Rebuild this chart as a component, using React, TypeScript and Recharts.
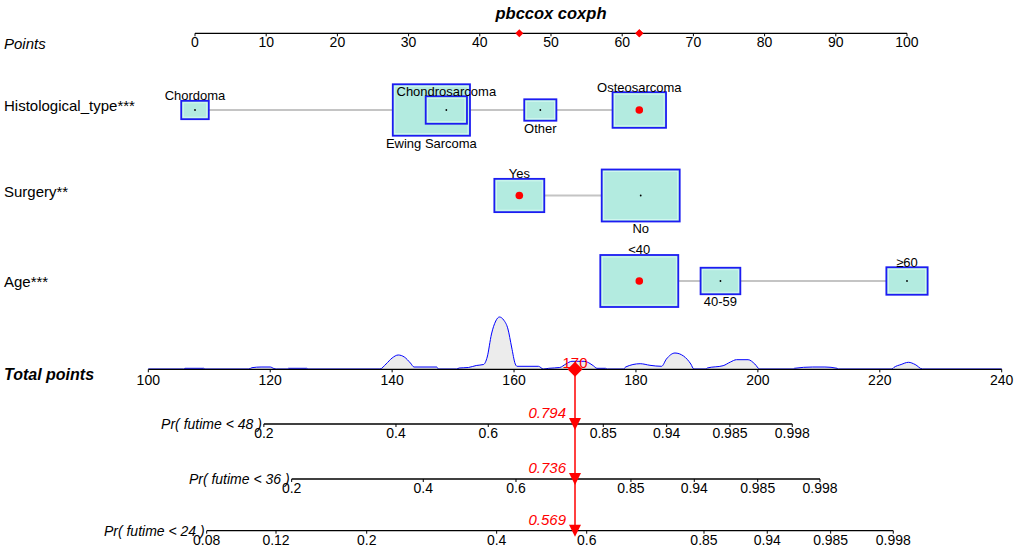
import { ComposedChart, XAxis, YAxis, Scatter, Area, ReferenceLine } from "recharts";

const FONT = '"Liberation Sans", Arial, Helvetica, sans-serif';

// points scale of the nomogram
const pointTicks = [0, 10, 20, 30, 40, 50, 60, 70, 80, 90, 100];

// variables: level names, points, relative frequency (box size)
const histTypes = ["Chordoma", "Ewing Sarcoma", "Chondrosarcoma", "Other", "Osteosarcoma"];
const histPoints = [0, 33.2, 35.3, 48.5, 62.4];
const histFreq = [0.125, 0.98, 0.28, 0.17, 0.47];

const surgeryLevels = ["Yes", "No"];
const surgeryPoints = [45.55, 62.6];
const surgeryFreq = [0.41, 1.0];

const ageGroups = ["<40", "40-59", "≥60"];
const agePoints = [62.4, 73.8, 100];
const ageFreq = [1.0, 0.26, 0.28];

const chosen = { hist: "Osteosarcoma", surgery: "Yes", age: "<40" };

// total points
const totalTicks = [100, 120, 140, 160, 180, 200, 220, 240];
const totalScore = 170;

// density of total points in the cohort
const densityAt = [
  100, 105.8, 106, 109.1, 109.3,
  116.5, 117, 118.5, 120, 120.6, 121,
  122.8, 123, 126, 126.2,
  138, 139, 140, 141, 142, 143, 143.6, 147.3, 147.6,
  150.6, 151, 152.5, 153.8, 155, 155.6, 156.3, 157, 157.6, 158.3, 159, 159.6, 160.2, 160.5, 164, 164.8,
  165.7, 167.5, 168.5, 169.5, 171.5, 173, 173.6, 175, 175.3,
  178, 178.3, 180.7, 182.3, 184.2, 185, 186.4, 187.8, 189, 189.5,
  191.5, 191.7, 194.3, 195.5, 196.5, 198.4, 199.5, 200.3,
  205.8, 206, 209, 211, 213, 213.2,
  222, 222.3, 223.5, 224.7, 225.8, 227,
  240,
];
const densityVal = [
  0, 0, 0.7, 0.7, 0,
  0, 1.3, 2, 2, 0.5, 0,
  0, 0.7, 0.7, 0,
  0, 5, 11, 14, 12, 6, 2, 2, 0,
  0, 1, 1.5, 3.5, 4.5, 12, 35, 48, 52, 49, 40, 22, 5, 2.7, 2.7, 0,
  0.7, 1.5, 5, 7.7, 7.7, 3.3, 0.7, 0.7, 0,
  0, 2, 5.3, 3.7, 2.7, 10, 16, 13, 5, 0,
  0, 1, 3.3, 7, 9.3, 9.3, 5, 0,
  0, 0.7, 2, 2, 0.7, 0,
  0, 1.5, 4.5, 6.7, 4.5, 0,
  0,
];

// probability axes: tick labels and where they sit on the total points scale
const pr48Labels = ["0.2", "0.4", "0.6", "0.85", "0.94", "0.985", "0.998"];
const pr48At = [118.96, 140.63, 155.77, 174.64, 185.04, 195.42, 205.64];
const pr36Labels = ["0.2", "0.4", "0.6", "0.85", "0.94", "0.985", "0.998"];
const pr36At = [123.52, 145.11, 160.32, 179.18, 189.57, 199.97, 210.19];
const pr24Labels = ["0.08", "0.12", "0.2", "0.4", "0.6", "0.85", "0.94", "0.985", "0.998"];
const pr24At = [109.58, 120.95, 135.83, 157.15, 171.92, 191.16, 201.54, 211.94, 222.21];
const probTitles = ["Pr( futime < 48 )", "Pr( futime < 36 )", "Pr( futime < 24 )"];
const predicted = ["0.794", "0.736", "0.569"];

// layout
const TOP_ROWS = [0, 76.7, 162.2, 247.7];
const BOT_ROWS = [0, 54.7, 109.7, 161.4];

const levelData = (names: string[], pts: number[], freq: number[], y: number, pick: string) =>
  names.map((name, i) => ({ x: pts[i], y, name, freq: freq[i], below: i % 2 === 1, chosen: name === pick }));

const tickData = (at: number[], labels: string[], y: number, title?: string) =>
  at.map((x, i) => ({ x, y, label: labels[i], title: i === 0 ? title : undefined }));

const AxisTick = (props: any) => {
  const { cx, cy, payload, dy } = props;
  return (
    <g>
      <line x1={cx} y1={cy} x2={cx} y2={cy + 3} stroke="#000" strokeWidth={1} />
      <text x={cx} y={cy + dy} textAnchor="middle" fontSize={14} fontFamily={FONT} fill="#000">
        {payload.label}
      </text>
      {payload.title && (
        <text x={cx - 2} y={cy + 5} textAnchor="end" fontSize={14} fontStyle="italic" fontFamily={FONT} fill="#000">
          {payload.title}
        </text>
      )}
    </g>
  );
};

const LevelBox = (props: any) => {
  const { cx, cy, payload } = props;
  const w = 78 * Math.sqrt(payload.freq);
  const h = (w * 2) / 3;
  return (
    <g>
      <rect x={cx - w / 2} y={cy - h / 2} width={w} height={h} fill="#b3ebe0" stroke="#1c1cf2" strokeWidth={1.8} />
      <rect x={cx - w / 2 + 2} y={cy - h / 2 + 2} width={w - 4} height={h - 4} fill="none" stroke="#d9fbf3" strokeWidth={0.8} />
      {payload.chosen ? (
        <circle cx={cx} cy={cy} r={3.8} fill="#ff0000" />
      ) : (
        <circle cx={cx} cy={cy} r={0.9} fill="#000" />
      )}
      <text
        x={cx}
        y={payload.below ? cy + h / 2 + 12 : cy - h / 2 - 0.5}
        textAnchor="middle"
        fontSize={13}
        fontFamily={FONT}
        fill="#000"
      >
        {payload.name}
      </text>
    </g>
  );
};

const Diamond = (props: any) => {
  const { cx, cy, r } = props;
  return <polygon points={`${cx},${cy - r} ${cx + r},${cy} ${cx},${cy + r} ${cx - r},${cy}`} fill="#ff0000" />;
};

const Arrow = (props: any) => {
  const { cx, cy, payload } = props;
  return (
    <g>
      <polygon points={`${cx - 6},${cy - 6} ${cx + 6},${cy - 6} ${cx},${cy + 6}`} fill="#ff0000" />
      <text x={cx - 9} y={cy - 6} textAnchor="end" fontSize={15} fontStyle="italic" fontFamily={FONT} fill="#ff0000">
        {payload.label}
      </text>
    </g>
  );
};

const TotalMark = (props: any) => {
  const { cx, cy, payload } = props;
  return (
    <g>
      <Diamond cx={cx} cy={cy} r={7.5} />
      <text x={cx} y={cy - 1.5} textAnchor="middle" fontSize={15} fontFamily={FONT} fill="#ff0000">
        {payload.label}
      </text>
    </g>
  );
};

export default function App() {
  const pointsAxis = tickData(pointTicks, pointTicks.map(String), TOP_ROWS[0]);
  const hist = levelData(histTypes, histPoints, histFreq, TOP_ROWS[1], chosen.hist);
  const surgery = levelData(surgeryLevels, surgeryPoints, surgeryFreq, TOP_ROWS[2], chosen.surgery);
  const age = levelData(ageGroups, agePoints, ageFreq, TOP_ROWS[3], chosen.age);
  const picked = [...hist, ...surgery, ...age].filter((d) => d.chosen).map((d) => ({ x: d.x, y: TOP_ROWS[0] }));

  const density = densityAt.map((x, i) => ({ x, y: densityVal[i] }));
  const totalAxis = tickData(totalTicks, totalTicks.map(String), BOT_ROWS[0]);
  const probAxes = [
    tickData(pr48At, pr48Labels, BOT_ROWS[1], probTitles[0]),
    tickData(pr36At, pr36Labels, BOT_ROWS[2], probTitles[1]),
    tickData(pr24At, pr24Labels, BOT_ROWS[3], probTitles[2]),
  ];
  const arrows = predicted.map((label, i) => ({ x: totalScore, y: BOT_ROWS[i + 1], label }));

  const textStyle = { fontFamily: FONT, fill: "#000" };

  return (
    <div style={{ position: "absolute", left: 0, top: 0, width: 1021, height: 548, overflow: "hidden", background: "#fff" }}>
      <svg width={1021} height={548} style={{ position: "absolute", left: 0, top: 0 }}>
        <text x={551} y={19} textAnchor="middle" fontSize={16.5} fontWeight="bold" fontStyle="italic" {...textStyle}>
          pbccox coxph
        </text>
        <text x={4} y={48.5} fontSize={15} fontStyle="italic" {...textStyle}>Points</text>
        <text x={4} y={110.5} fontSize={15} {...textStyle}>Histological_type***</text>
        <text x={4} y={196.5} fontSize={15} {...textStyle}>Surgery**</text>
        <text x={4} y={287} fontSize={15} {...textStyle}>Age***</text>
        <text x={4} y={380} fontSize={16} fontWeight="bold" fontStyle="italic" {...textStyle}>Total points</text>
      </svg>

      {/* points scale and the three variables */}
      <div style={{ position: "absolute", left: 0, top: 0 }}>
        <ComposedChart width={1021} height={333.3} margin={{ top: 33.3, right: 114, bottom: 0, left: 195 }} style={{ overflow: "visible" }}>
          <XAxis type="number" dataKey="x" domain={[0, 100]} hide />
          <YAxis type="number" dataKey="y" domain={[0, 300]} reversed hide />
          <Scatter data={pointsAxis} line={{ stroke: "#000", strokeWidth: 1.3 }} shape={(p: any) => <AxisTick {...p} dy={14} />} isAnimationActive={false} />
          <Scatter data={hist} line={{ stroke: "#c4c4c4", strokeWidth: 2 }} shape={(p: any) => <LevelBox {...p} />} isAnimationActive={false} />
          <Scatter data={surgery} line={{ stroke: "#c4c4c4", strokeWidth: 2 }} shape={(p: any) => <LevelBox {...p} />} isAnimationActive={false} />
          <Scatter data={age} line={{ stroke: "#c4c4c4", strokeWidth: 2 }} shape={(p: any) => <LevelBox {...p} />} isAnimationActive={false} />
          <Scatter data={picked} shape={(p: any) => <Diamond cx={p.cx} cy={p.cy} r={4} />} isAnimationActive={false} />
        </ComposedChart>
      </div>

      {/* density of total points */}
      <div style={{ position: "absolute", left: 0, top: 309.3 }}>
        <ComposedChart width={1021} height={60} margin={{ top: 0, right: 19.3, bottom: 0, left: 148.3 }} data={density}>
          <XAxis type="number" dataKey="x" domain={[100, 240]} hide />
          <YAxis type="number" domain={[0, 60]} hide />
          <Area type="monotone" dataKey="y" stroke="#0000ff" strokeWidth={1} fill="#ececec" fillOpacity={1} baseValue={0} dot={false} activeDot={false} isAnimationActive={false} />
        </ComposedChart>
      </div>

      {/* total points and predicted probabilities */}
      <div style={{ position: "absolute", left: 0, top: 340 }}>
        <ComposedChart width={1021} height={208} margin={{ top: 29.3, right: 19.3, bottom: 0, left: 148.3 }} style={{ overflow: "visible" }}>
          <XAxis type="number" dataKey="x" domain={[100, 240]} hide />
          <YAxis type="number" dataKey="y" domain={[0, 178.7]} reversed hide />
          <Scatter data={totalAxis} line={{ stroke: "#000", strokeWidth: 1.3 }} shape={(p: any) => <AxisTick {...p} dy={15.5} />} isAnimationActive={false} />
          {probAxes.map((d, i) => (
            <Scatter key={i} data={d} line={{ stroke: "#000", strokeWidth: 1.3 }} shape={(p: any) => <AxisTick {...p} dy={14} />} isAnimationActive={false} />
          ))}
          <ReferenceLine
            segment={[{ x: totalScore, y: BOT_ROWS[0] }, { x: totalScore, y: BOT_ROWS[3] }]}
            stroke="#ff0000"
            strokeWidth={1.5}
          />
          <Scatter data={arrows} shape={(p: any) => <Arrow {...p} />} isAnimationActive={false} />
          <Scatter data={[{ x: totalScore, y: BOT_ROWS[0], label: String(totalScore) }]} shape={(p: any) => <TotalMark {...p} />} isAnimationActive={false} />
        </ComposedChart>
      </div>
    </div>
  );
}
